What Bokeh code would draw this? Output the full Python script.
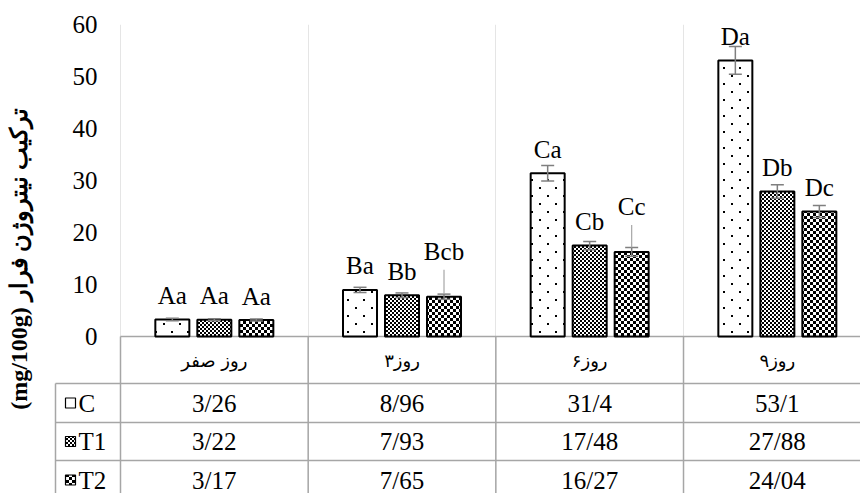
import math
from bokeh.plotting import figure
from bokeh.models import Range1d, FixedTicker, ColumnDataSource, CanvasTexture
from bokeh.core.properties import value
from bokeh.embed import file_html
from bokeh.resources import INLINE

# ---------------- data ----------------
days = ["روز صفر", "روز۳", "روز۶", "روز۹"]
series = ["C", "T1", "T2"]
c_vals = [3.26, 8.96, 31.4, 53.1]
t1_vals = [3.22, 7.93, 17.48, 27.88]
t2_vals = [3.17, 7.65, 16.27, 24.04]
c_err = [0.23, 0.5, 1.5, 2.65]
t1_err = [0.2, 0.45, 0.8, 1.3]
t2_err = [0.2, 0.5, 0.85, 1.15]
c_letters = ["Aa", "Ba", "Ca", "Da"]
t1_letters = ["Aa", "Bb", "Cb", "Db"]
t2_letters = ["Aa", "Bcb", "Cc", "Dc"]
y_ticks = [0, 10, 20, 30, 40, 50, 60]
y_title = "(mg/100g) ترکیب نیتروژن فرار"

# ---------------- layout ----------------
W, H = 860, 493
FRAME_LEFT_PX = 53              # page x of the frame's left edge
ZERO_PX = 120                   # page x of category 0 start
BORDER_TOP = 24
CAT_PX = 187.67                 # px per category
PX_PER_UNIT = 5.2               # px per y unit
FRAME_H = H - BORDER_TOP
Y_TOP = 60
Y_BOTTOM = Y_TOP - FRAME_H / PX_PER_UNIT
X_START = -(ZERO_PX - FRAME_LEFT_PX) / CAT_PX
X_END = X_START + (W - FRAME_LEFT_PX) / CAT_PX

def px_x(dx):
    return dx / CAT_PX

def px_y(dy):
    return dy / PX_PER_UNIT

BAR_W = px_x(34)
OFFS = [-px_x(42), 0.0, px_x(42)]
CAP_W = px_x(13)
LABEL_GAP = 24
label_lift = [[0, 0, 0, 0], [0, 0, 0, 0], [0, 21, 21, 0]]

GRAY = "#a6a6a6"
ERR = "#7f7f7f"
SERIF = "Liberation Serif"
FS = "25px"

def texture(size, rects):
    body = "".join(f"ctx.fillRect({x},{y},{w},{h});" for x, y, w, h in rects)
    code = (f"const c = ctx.canvas; c.width = {size}; c.height = {size};"
            f"ctx.clearRect(0,0,{size},{size}); ctx.fillStyle = 'black';" + body)
    return CanvasTexture(code=code)

tex_c = texture(16, [(3, 3, 2, 2), (11, 11, 2, 2)])
tex_t1 = texture(4, [(0, 0, 2, 2), (2, 2, 2, 2)])
tex_t2 = texture(6, [(0, 0, 3, 3), (3, 3, 3, 3)])
hatches = [dict(hatch_pattern=value("pc"), hatch_extra={"pc": tex_c}, hatch_scale=16),
           dict(hatch_pattern=value("p1"), hatch_extra={"p1": tex_t1}, hatch_scale=4),
           dict(hatch_pattern=value("p2"), hatch_extra={"p2": tex_t2}, hatch_scale=6)]

p = figure(width=W, height=H, x_range=Range1d(X_START, X_END),
           y_range=Range1d(Y_BOTTOM, Y_TOP),
           min_border_left=FRAME_LEFT_PX, min_border_right=0,
           min_border_top=BORDER_TOP, min_border_bottom=0,
           x_axis_location=None, output_backend="svg",
           toolbar_location=None, tools="")
p.outline_line_color = None
p.ygrid.grid_line_color = None
p.background_fill_color = "white"
p.border_fill_color = "white"

ax = p.yaxis[0]
ax.ticker = FixedTicker(ticks=y_ticks)
ax.axis_line_color = None
ax.major_tick_line_color = None
ax.minor_tick_line_color = None
ax.major_tick_out = 0
ax.major_tick_in = 0
ax.major_label_standoff = -(97 - FRAME_LEFT_PX)
ax.major_label_text_font = SERIF
ax.major_label_text_font_size = FS
ax.major_label_text_color = "black"
ax.axis_label = y_title
ax.axis_label_text_font = SERIF
ax.axis_label_text_font_style = "bold"
ax.axis_label_text_font_size = "24px"
ax.axis_label_text_color = "black"
ax.axis_label_standoff = 38

# ---------------- table grid ----------------
row_edges_px = [0, 47, 86, 124, 163]
row_edges = [-px_y(v) for v in row_edges_px]
row_centers = [(row_edges[i] + row_edges[i + 1]) / 2 for i in range(4)]
n = len(days)
cat_x = [i + 0.5 for i in range(n)]
LEG_LEFT = px_x(55 - ZERO_PX)

p.segment(x0=[0] + [LEG_LEFT] * 3, x1=[X_END + 1] * 4, y0=row_edges[:4], y1=row_edges[:4],
          line_color=GRAY, line_width=1.5)
p.segment(x0=list(range(n)), x1=list(range(n)), y0=[0] * n, y1=[Y_BOTTOM - 1] * n,
          line_color=GRAY, line_width=1.5)
p.segment(x0=[LEG_LEFT], x1=[LEG_LEFT], y0=[row_edges[1]], y1=[Y_BOTTOM - 1],
          line_color=GRAY, line_width=1.5)

# header & values
p.text(x=cat_x, y=[row_centers[0]] * n, text=days, text_font=value("DejaVu Sans"),
       text_font_size="18px", text_align="center", text_baseline="middle", text_color="black")
all_vals = [c_vals, t1_vals, t2_vals]
all_err = [c_err, t1_err, t2_err]
all_letters = [c_letters, t1_letters, t2_letters]
for s in range(3):
    txt = [str(v).replace(".", "/") for v in all_vals[s]]
    p.text(x=cat_x, y=[row_centers[s + 1]] * n, text=txt, text_font=value(SERIF),
           text_font_size=FS, text_align="center", text_baseline="middle", text_color="black")

# legend column
KEY_X = px_x(70 - ZERO_PX)
for s in range(3):
    kw = hatches[s] if s > 0 else {}
    p.rect(x=[KEY_X], y=[row_centers[s + 1]], width=px_x(10), height=px_y(10),
           fill_color="white", line_color="black", line_width=1.2, hatch_color="black", **kw)
p.text(x=[px_x(78 - ZERO_PX)] * 3, y=row_centers[1:], text=series, text_font=value(SERIF),
       text_font_size=FS, text_align="left", text_baseline="middle", text_color="black")

# ---------------- bars ----------------
for s in range(3):
    xs = [c + OFFS[s] for c in cat_x]
    vals, errs = all_vals[s], all_err[s]
    src = ColumnDataSource(dict(x=xs, top=vals))
    p.vbar(x="x", top="top", bottom=0, width=BAR_W, source=src, fill_color="white",
           line_color="black", line_width=2, hatch_color="black", **hatches[s])
    lo = [v - e for v, e in zip(vals, errs)]
    hi = [v + e for v, e in zip(vals, errs)]
    p.segment(x0=xs, x1=xs, y0=lo, y1=hi, line_color=ERR, line_width=1.5)
    p.segment(x0=[x - CAP_W / 2 for x in xs], x1=[x + CAP_W / 2 for x in xs], y0=lo, y1=lo,
              line_color=ERR, line_width=1.5)
    p.segment(x0=[x - CAP_W / 2 for x in xs], x1=[x + CAP_W / 2 for x in xs], y0=hi, y1=hi,
              line_color=ERR, line_width=1.5)
    for i in range(n):
        lift = label_lift[s][i]
        p.text(x=[xs[i]], y=[vals[i]], text=[all_letters[s][i]], y_offset=-(LABEL_GAP + lift),
               text_font=value(SERIF), text_font_size=FS, text_align="center",
               text_baseline="middle", text_color="black")
        if lift:
            p.segment(x0=[xs[i]], x1=[xs[i]], y0=[hi[i]], y1=[vals[i] + px_y(LABEL_GAP + lift - 18)],
                      line_color=GRAY, line_width=1.2)

open("out.html", "w").write(file_html(p, INLINE))
